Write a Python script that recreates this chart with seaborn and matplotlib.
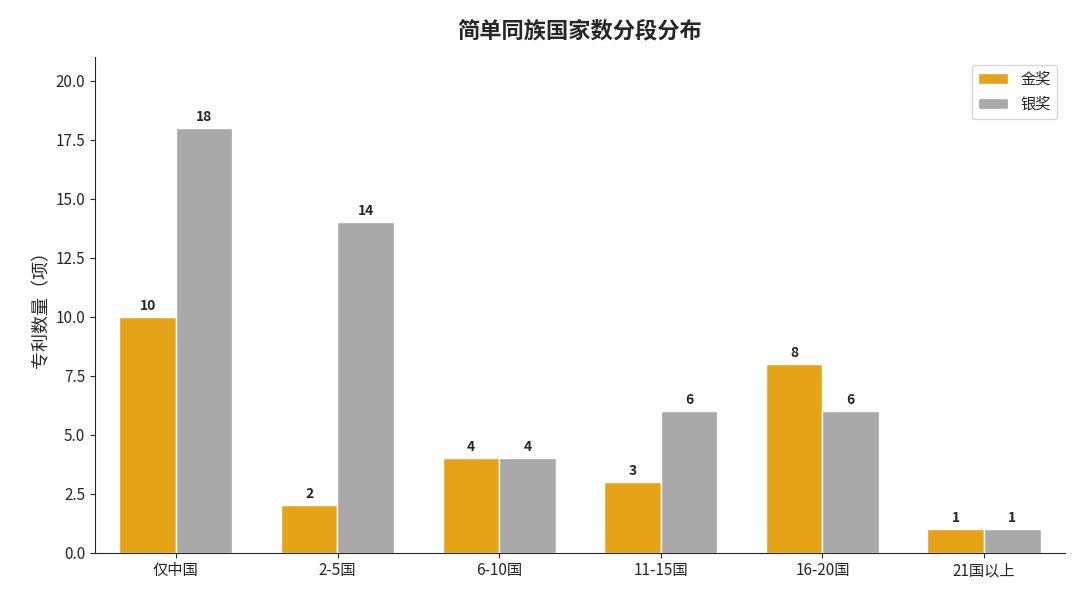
import matplotlib.pyplot as plt
import seaborn as sns
import pandas as pd

categories = ["仅中国", "2-5国", "6-10国", "11-15国", "16-20国", "21国以上"]
gold = [10, 2, 4, 3, 8, 1]
silver = [18, 14, 4, 6, 6, 1]

df = pd.DataFrame({
    "cat": categories * 2,
    "val": gold + silver,
    "award": ["金奖"] * len(categories) + ["银奖"] * len(categories),
})

sns.set_style("ticks")
plt.rcParams['font.family'] = ['Noto Sans CJK SC', 'DejaVu Sans']

fig, ax = plt.subplots(figsize=(10.8, 6.02), dpi=100)
fig.subplots_adjust(left=0.088, right=0.986, top=0.905, bottom=0.082)

sns.barplot(data=df, x="cat", y="val", hue="award", ax=ax,
            palette=["#E6A317", "#A9A9A9"], width=0.7,
            edgecolor="white", linewidth=1, saturation=1)

for cont in ax.containers:
    ax.bar_label(cont, fmt="%d", padding=3, fontsize=10, fontweight="bold")

ax.set_ylim(0, 21)
ax.set_yticks([0, 2.5, 5, 7.5, 10, 12.5, 15, 17.5, 20])
ax.set_yticklabels([f"{v:.1f}" for v in ax.get_yticks()], fontsize=11)
ax.tick_params(axis="x", labelsize=11)
ax.set_xlabel("")
ax.set_ylabel("专利数量（项）", fontsize=13)
ax.set_title("简单同族国家数分段分布", fontsize=16, fontweight="bold", pad=14)
sns.despine(ax=ax)
ax.legend(title=None, fontsize=11, loc="upper right", frameon=True)

fig.savefig("out.png", dpi=100)
